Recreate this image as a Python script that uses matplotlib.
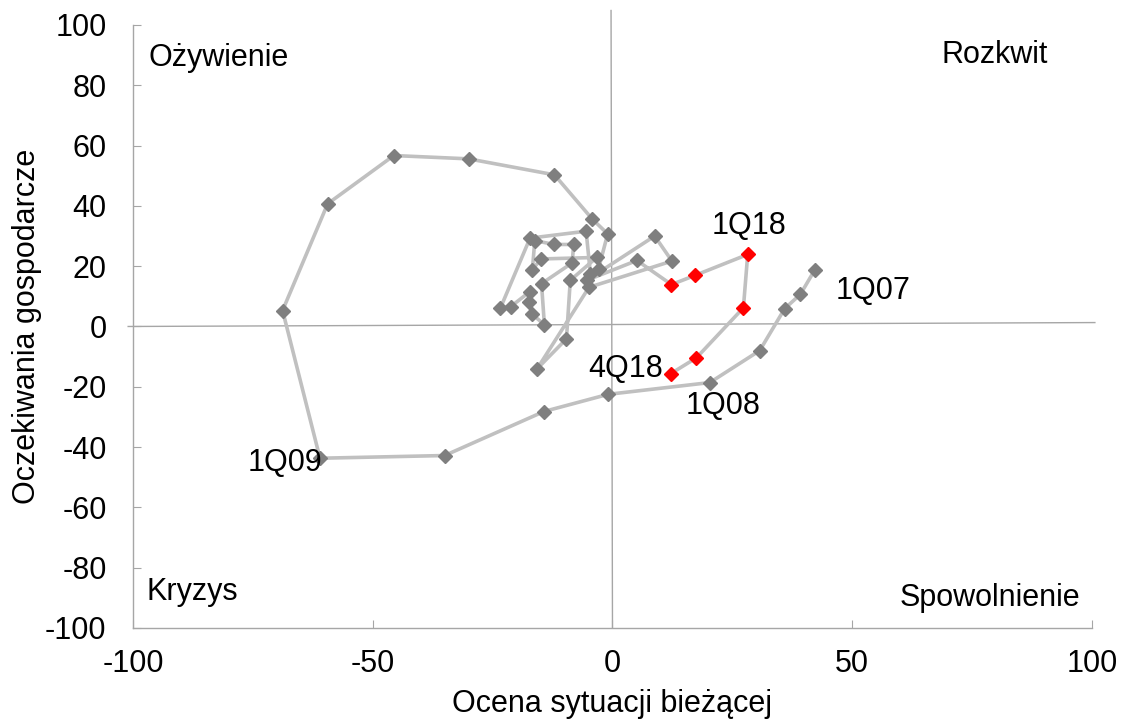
import matplotlib
matplotlib.use("Agg")
import matplotlib.pyplot as plt

plt.rcParams['font.family'] = ['Liberation Sans', 'DejaVu Sans']
plt.rcParams['axes.unicode_minus'] = False

# ocena sytuacji biezacej (x) i oczekiwania (y), kwartalnie 1Q07-4Q18
situation = [42.2, 39.2, 35.9, 30.7, 20.3, -0.9, -14.3, -35.0, -61.0, -68.8,
             -59.4, -45.6, -30.0, -12.1,
             -4.2, -1.0, -2.9, -4.6, -5.5, -17.2, -23.4, -21.2, -17.2, -17.5,
             -16.7, -14.2, -14.8, -8.4, -8.1, -12.2, -16.2, -16.7, -14.9, -3.3,
             -8.8, -9.6, -15.7, -4.9, 12.4, 8.8, -5.4, 5.1,
             12.3, 17.3, 28.2, 27.3, 17.5, 12.2]
expectations = [18.8, 10.7, 5.9, -8.0, -18.6, -22.5, -28.2, -42.8, -43.7, 5.3,
                40.7, 56.7, 55.6, 50.3,
                35.6, 30.7, 19.2, 17.5, 31.6, 29.3, 6.0, 6.6, 11.6, 8.0,
                4.0, 0.6, 14.2, 21.1, 27.2, 27.2, 28.5, 18.9, 22.4, 22.9,
                15.3, -4.1, -14.0, 13.0, 21.7, 30.0, 15.3, 21.9,
                13.9, 17.0, 23.9, 6.2, -10.4, -15.6]
n_recent = 6  # 3Q17-4Q18 wyroznione na czerwono

point_labels = ["1Q07", "1Q08", "1Q09", "1Q18", "4Q18"]
label_index = [0, 4, 8, 44, 47]
label_offset = [(21, -21), (13, -23), (-35, -5), (1, 28), (-8, 5)]
label_ha = ["left", "center", "center", "center", "right"]

quadrants = ["Ożywienie", "Rozkwit", "Kryzys", "Spowolnienie"]

fs = 22

fig = plt.figure(figsize=(11.23, 7.2), dpi=100)
ax = fig.add_axes([0.1184, 0.1278, 0.854, 0.8375])

line_grey = "#c0c0c0"
axis_grey = "#a6a6a6"

# osie przechodzace przez zero
ax.plot([-101, 100.6], [0, 1.3], color=axis_grey, lw=1.0, clip_on=False, zorder=1)
ax.plot([-0.3, 0], [104.8, -100], color=axis_grey, lw=1.0, clip_on=False, zorder=1)

ax.plot(situation, expectations, color=line_grey, lw=2.6, zorder=2)
ax.plot(situation[:-n_recent], expectations[:-n_recent], ls="none", marker="D",
        ms=7, color="#7f7f7f", mec="#7f7f7f", zorder=3)
ax.plot(situation[-n_recent:], expectations[-n_recent:], ls="none", marker="D",
        ms=7, color="#ff0000", mec="#ff0000", zorder=3)

for txt, i, off, ha in zip(point_labels, label_index, label_offset, label_ha):
    ax.annotate(txt, (situation[i], expectations[i]), xytext=off,
                textcoords="offset pixels", fontsize=fs, ha=ha, va="center")

ax.text(-96.8, 88.9, quadrants[0], fontsize=fs, ha="left", va="center")
ax.text(90.7, 89.9, quadrants[1], fontsize=fs, ha="right", va="center")
ax.text(-97.2, -88.2, quadrants[2], fontsize=fs, ha="left", va="center")
ax.text(97.6, -90.2, quadrants[3], fontsize=fs, ha="right", va="center")

ax.set_xlim(-100, 100)
ax.set_ylim(-100, 100)
ax.set_xticks([-100, -50, 0, 50, 100])
ax.set_yticks(range(-100, 101, 20))

for side in ("top", "right"):
    ax.spines[side].set_visible(False)
for side in ("left", "bottom"):
    ax.spines[side].set_color(axis_grey)
    ax.spines[side].set_linewidth(1.0)

ax.tick_params(axis="both", direction="in", color=axis_grey, length=6,
               labelsize=fs)
ax.tick_params(axis="y", pad=19)
ax.tick_params(axis="x", pad=15)

ax.set_xlabel("Ocena sytuacji bieżącej", fontsize=fs, labelpad=7)
ax.set_ylabel("Oczekiwania gospodarcze", fontsize=fs, labelpad=2)

fig.savefig("out.png", dpi=100)
